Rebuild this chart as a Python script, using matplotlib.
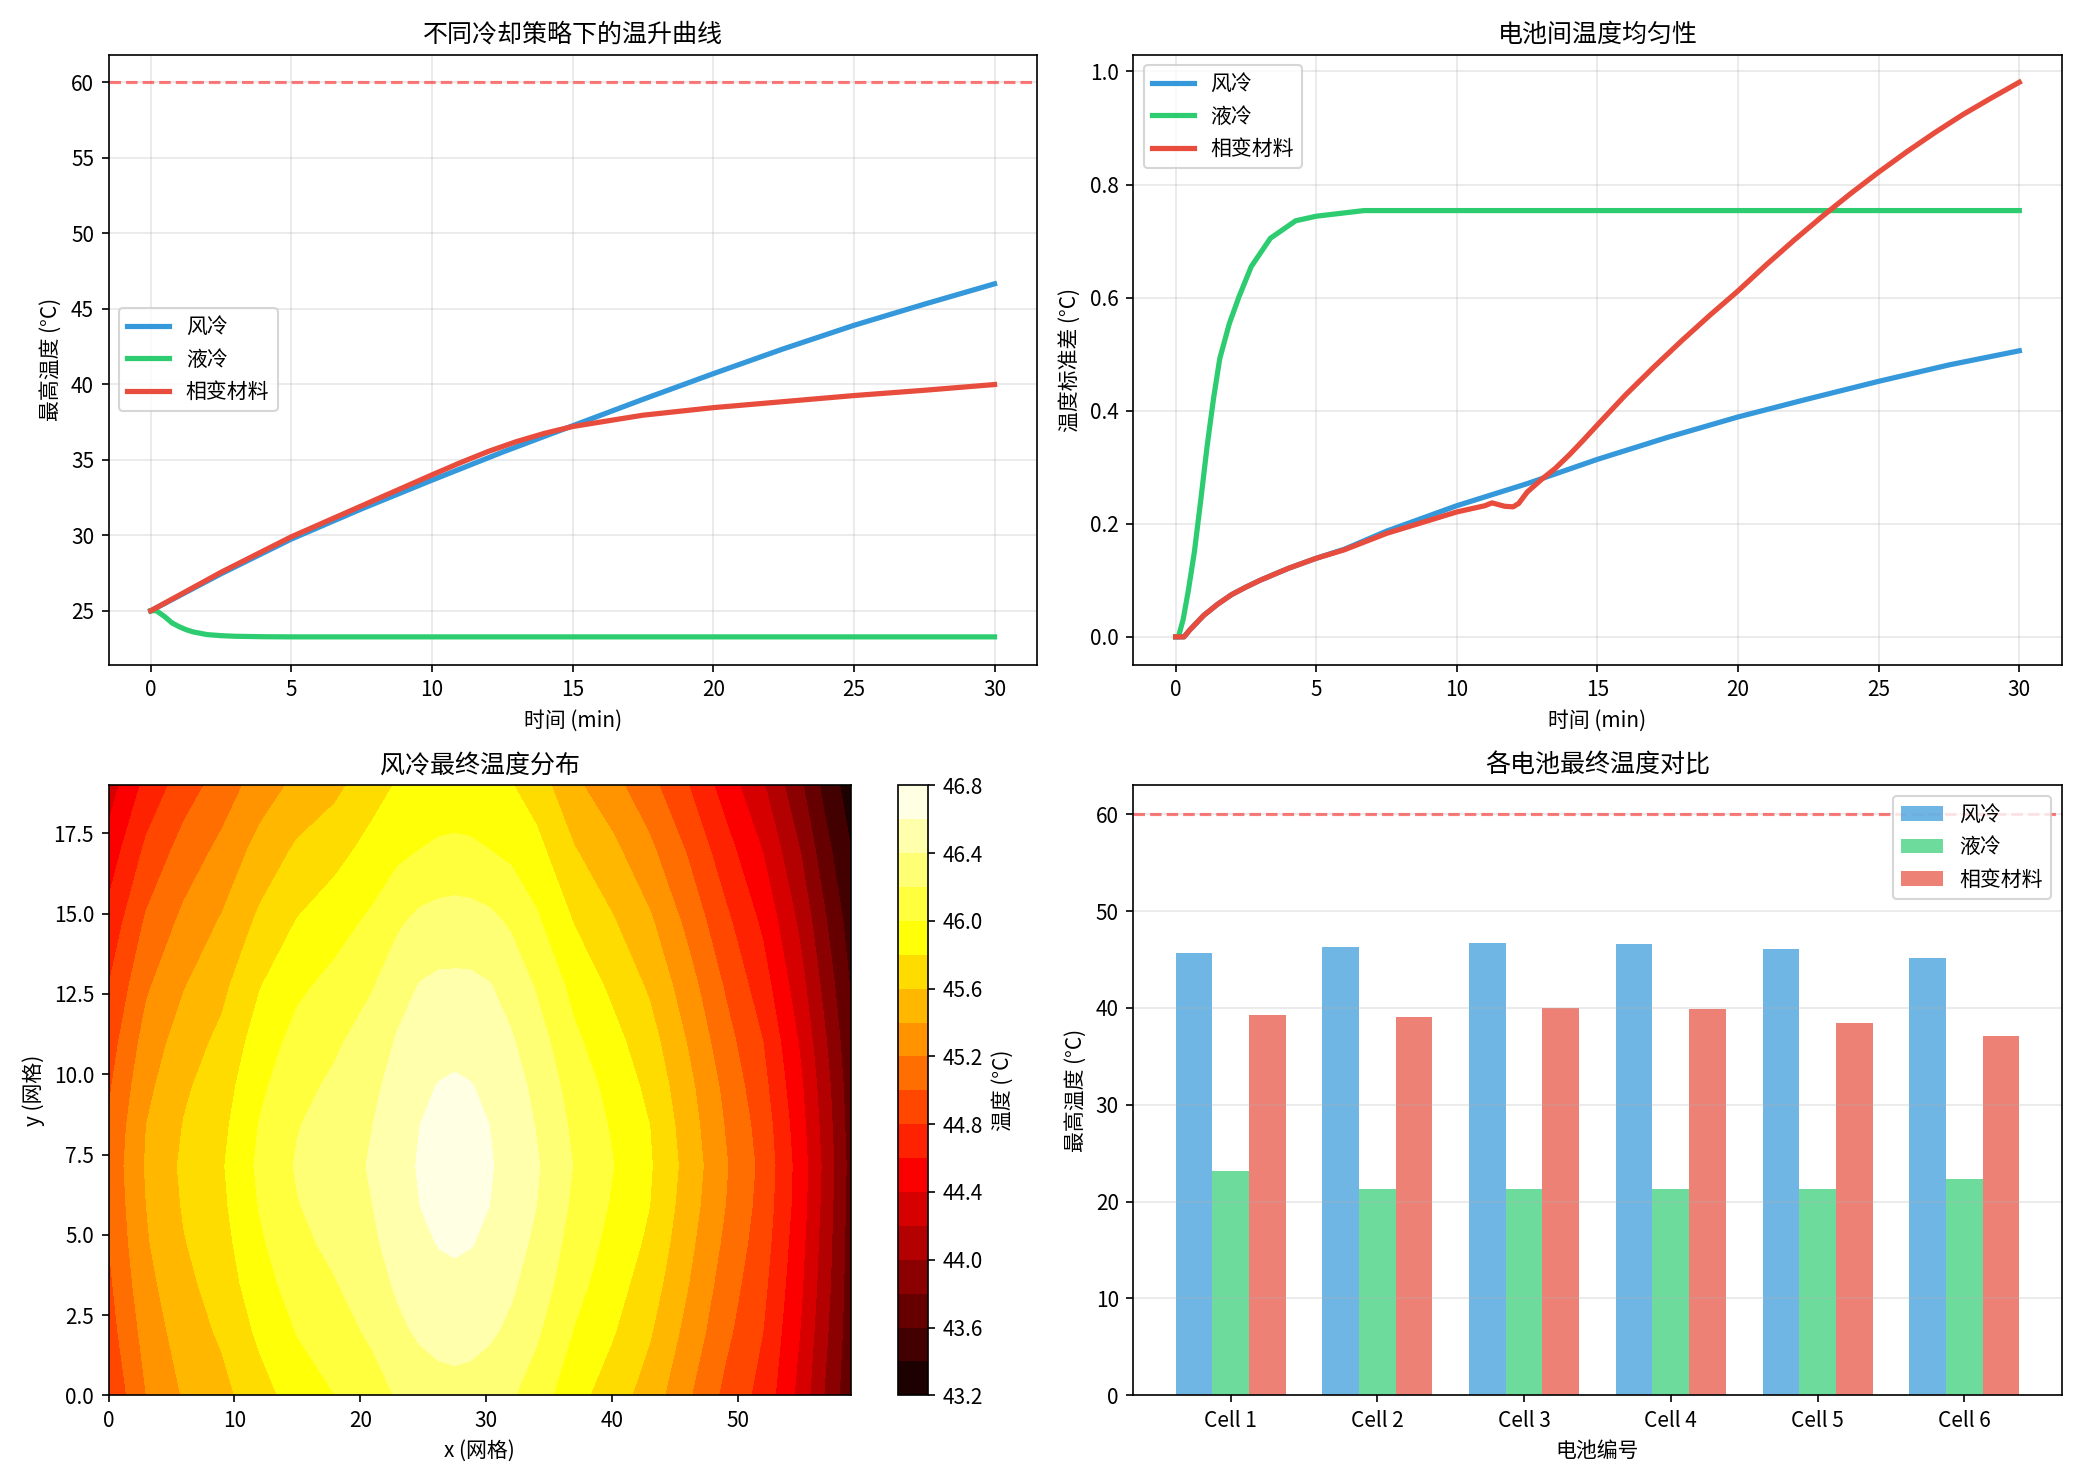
#!/usr/bin/env python3
"""
Cooling strategy comparison: temperature rise, uniformity, air-cooling field, per-cell max temps
"""

import numpy as np
import matplotlib
matplotlib.use('Agg')
import matplotlib.pyplot as plt

plt.rcParams['font.family'] = ['Noto Sans CJK SC', 'DejaVu Sans']
plt.rcParams['axes.unicode_minus'] = False

COLORS = {'风冷': '#3498db', '液冷': '#2ecc71', '相变材料': '#e74c3c'}

# --- max temperature vs time (deg C) ---
t_air = [0, 2.5, 5, 7.5, 10, 12.5, 15, 17.5, 20, 22.5, 25, 27.5, 30]
tmax_air = [25.0, 27.45, 29.75, 31.75, 33.65, 35.5, 37.25, 39.0, 40.7, 42.35, 43.9, 45.3, 46.65]

t_liquid = [0, 0.2, 0.5, 0.75, 1.0, 1.25, 1.5, 2.0, 2.5, 3.0, 4.0, 5.0, 10, 20, 30]
tmax_liquid = [25.0, 25.0, 24.6, 24.2, 23.95, 23.75, 23.6, 23.42, 23.35, 23.31, 23.28, 23.27,
               23.27, 23.27, 23.27]

t_pcm = [0, 2.5, 5, 7.5, 10, 11, 12, 13, 14, 15, 16, 17.5, 20, 22.5, 25, 27.5, 30]
tmax_pcm = [25.0, 27.55, 29.9, 31.95, 34.0, 34.8, 35.55, 36.2, 36.75, 37.2, 37.5, 37.95,
            38.45, 38.85, 39.25, 39.6, 39.98]

# --- temperature std between cells (deg C) ---
s_t_air = [0, 0.3, 0.5, 1, 1.5, 2, 2.5, 3, 4, 5, 6, 7.5, 10, 12.5, 15, 17.5, 20, 22.5, 25,
           27.5, 30]
std_air = [0.0, 0.0, 0.012, 0.038, 0.058, 0.075, 0.088, 0.1, 0.121, 0.139, 0.155, 0.187,
           0.232, 0.271, 0.314, 0.353, 0.389, 0.421, 0.452, 0.481, 0.506]

s_t_liquid = [0, 0.1, 0.27, 0.45, 0.67, 0.9, 1.12, 1.35, 1.57, 1.91, 2.25, 2.69, 3.37, 4.27,
              5, 6.7, 10, 20, 30]
std_liquid = [0.0, 0.0, 0.031, 0.081, 0.151, 0.244, 0.337, 0.422, 0.492, 0.554, 0.601,
              0.655, 0.705, 0.736, 0.744, 0.754, 0.754, 0.754, 0.754]

s_t_pcm = [0, 0.3, 0.5, 1, 1.5, 2, 2.5, 3, 4, 5, 6, 7.5, 10, 11, 11.25, 11.7, 12.0, 12.2,
           12.5, 13, 13.5, 14, 14.5, 15, 16, 17, 18, 19, 20, 21, 22, 23, 24, 25, 26, 27,
           28, 29, 30]
std_pcm = [0.0, 0.0, 0.012, 0.038, 0.058, 0.075, 0.088, 0.1, 0.121, 0.139, 0.154, 0.183,
           0.221, 0.232, 0.237, 0.231, 0.230, 0.236, 0.256, 0.278, 0.298, 0.322, 0.348,
           0.375, 0.428, 0.477, 0.524, 0.569, 0.612, 0.658, 0.702, 0.744, 0.784, 0.822,
           0.858, 0.892, 0.924, 0.953, 0.981]

# --- final temperature field, air cooling (grid coords) ---
grid_x = [0, 3, 6, 9, 12, 15, 18, 21, 23, 24.75, 26.25, 27.5, 28.75,
          30.25, 32, 34, 37, 40, 43, 46, 49, 52, 55, 57, 59]
grid_y = [0, 2, 3.5, 4.75, 5.9, 7.15, 8.4, 9.6, 11, 12.75, 14.75, 17, 19]
field_air = [
    [44.82, 45.20, 45.42, 45.54, 45.72, 45.89, 46.00, 46.11, 46.22, 46.29, 46.33, 46.34, 46.33,
     46.29, 46.22, 46.10, 45.87, 45.70, 45.51, 45.23, 44.95, 44.73, 44.33, 43.97, 43.65],
    [44.91, 45.28, 45.50, 45.63, 45.84, 46.01, 46.11, 46.24, 46.36, 46.43, 46.46, 46.47, 46.46,
     46.43, 46.36, 46.23, 45.99, 45.82, 45.62, 45.34, 45.05, 44.80, 44.39, 44.03, 43.68],
    [44.96, 45.34, 45.55, 45.69, 45.92, 46.09, 46.19, 46.32, 46.43, 46.50, 46.54, 46.55, 46.54,
     46.50, 46.43, 46.31, 46.07, 45.89, 45.70, 45.41, 45.11, 44.85, 44.43, 44.07, 43.69],
    [45.00, 45.38, 45.59, 45.73, 45.97, 46.15, 46.25, 46.37, 46.48, 46.56, 46.61, 46.63, 46.61,
     46.56, 46.48, 46.36, 46.12, 45.94, 45.76, 45.46, 45.16, 44.89, 44.46, 44.09, 43.70],
    [45.03, 45.40, 45.62, 45.76, 46.01, 46.19, 46.29, 46.40, 46.51, 46.60, 46.67, 46.69, 46.67,
     46.60, 46.51, 46.40, 46.16, 45.98, 45.80, 45.50, 45.20, 44.92, 44.49, 44.11, 43.71],
    [45.05, 45.42, 45.64, 45.78, 46.04, 46.22, 46.31, 46.42, 46.52, 46.62, 46.70, 46.72, 46.70,
     46.62, 46.52, 46.42, 46.19, 46.01, 45.82, 45.53, 45.22, 44.94, 44.50, 44.13, 43.72],
    [45.02, 45.40, 45.61, 45.75, 46.01, 46.19, 46.29, 46.40, 46.51, 46.60, 46.67, 46.69, 46.67,
     46.60, 46.51, 46.39, 46.16, 45.98, 45.80, 45.50, 45.19, 44.91, 44.47, 44.10, 43.70],
    [44.97, 45.35, 45.57, 45.71, 45.96, 46.14, 46.24, 46.36, 46.48, 46.56, 46.61, 46.63, 46.61,
     46.56, 46.47, 46.36, 46.11, 45.94, 45.75, 45.46, 45.15, 44.86, 44.43, 44.07, 43.68],
    [44.90, 45.28, 45.50, 45.65, 45.89, 46.07, 46.17, 46.30, 46.42, 46.50, 46.53, 46.54, 46.53,
     46.50, 46.42, 46.29, 46.04, 45.87, 45.68, 45.39, 45.08, 44.80, 44.37, 44.01, 43.64],
    [44.80, 45.17, 45.39, 45.55, 45.79, 45.96, 46.06, 46.19, 46.33, 46.41, 46.44, 46.44, 46.44,
     46.41, 46.33, 46.18, 45.94, 45.76, 45.57, 45.29, 44.98, 44.69, 44.27, 43.92, 43.58],
    [44.66, 45.03, 45.25, 45.42, 45.64, 45.81, 45.92, 46.04, 46.17, 46.25, 46.28, 46.29, 46.28,
     46.25, 46.17, 46.03, 45.79, 45.62, 45.43, 45.15, 44.85, 44.56, 44.15, 43.81, 43.50],
    [44.48, 44.84, 45.08, 45.25, 45.47, 45.63, 45.73, 45.87, 45.95, 46.00, 46.03, 46.04, 46.03,
     46.00, 45.95, 45.86, 45.61, 45.45, 45.24, 44.98, 44.68, 44.39, 43.99, 43.66, 43.40],
    [44.30, 44.66, 44.90, 45.09, 45.29, 45.45, 45.55, 45.72, 45.82, 45.86, 45.88, 45.88, 45.88,
     45.86, 45.81, 45.70, 45.44, 45.27, 45.06, 44.81, 44.51, 44.22, 43.83, 43.52, 43.30],
]

# --- final max temperature per cell ---
cells = ['Cell 1', 'Cell 2', 'Cell 3', 'Cell 4', 'Cell 5', 'Cell 6']
final_air = [45.7, 46.3, 46.7, 46.6, 46.1, 45.2]
final_liquid = [23.2, 21.3, 21.3, 21.3, 21.3, 22.3]
final_pcm = [39.3, 39.05, 40.0, 39.9, 38.4, 37.1]

T_LIMIT = 60


def plot_all():
    fig, axes = plt.subplots(2, 2, figsize=(2084 / 150, 1484 / 150))

    # temperature rise
    ax = axes[0, 0]
    ax.plot(t_air, tmax_air, color=COLORS['风冷'], linewidth=2.5, label='风冷')
    ax.plot(t_liquid, tmax_liquid, color=COLORS['液冷'], linewidth=2.5, label='液冷')
    ax.plot(t_pcm, tmax_pcm, color=COLORS['相变材料'], linewidth=2.5, label='相变材料')
    ax.axhline(y=T_LIMIT, color='r', linestyle='--', alpha=0.5)
    ax.set_xlabel('时间 (min)')
    ax.set_ylabel('最高温度 (°C)')
    ax.set_title('不同冷却策略下的温升曲线', fontsize=12)
    ax.legend(loc='center left')
    ax.grid(True, alpha=0.3)

    # uniformity
    ax = axes[0, 1]
    ax.plot(s_t_air, std_air, color=COLORS['风冷'], linewidth=2.5, label='风冷')
    ax.plot(s_t_liquid, std_liquid, color=COLORS['液冷'], linewidth=2.5, label='液冷')
    ax.plot(s_t_pcm, std_pcm, color=COLORS['相变材料'], linewidth=2.5, label='相变材料')
    ax.set_xlabel('时间 (min)')
    ax.set_ylabel('温度标准差 (°C)')
    ax.set_title('电池间温度均匀性', fontsize=12)
    ax.legend(loc='upper left')
    ax.grid(True, alpha=0.3)

    # field
    ax = axes[1, 0]
    levels = np.linspace(43.2, 46.8, 19)
    cs = ax.contourf(grid_x, grid_y, field_air, levels=levels, cmap='hot')
    cbar = fig.colorbar(cs, ax=ax, ticks=levels[::2])
    cbar.set_label('温度 (°C)')
    ax.set_xlabel('x (网格)')
    ax.set_ylabel('y (网格)')
    ax.set_title('风冷最终温度分布', fontsize=12)

    # per-cell bars
    ax = axes[1, 1]
    x = np.arange(len(cells))
    w = 0.25
    ax.bar(x - w, final_air, w, color=COLORS['风冷'], alpha=0.7, label='风冷')
    ax.bar(x, final_liquid, w, color=COLORS['液冷'], alpha=0.7, label='液冷')
    ax.bar(x + w, final_pcm, w, color=COLORS['相变材料'], alpha=0.7, label='相变材料')
    ax.axhline(y=T_LIMIT, color='r', linestyle='--', alpha=0.5)
    ax.set_xticks(x)
    ax.set_xticklabels(cells)
    ax.set_xlabel('电池编号')
    ax.set_ylabel('最高温度 (°C)')
    ax.set_title('各电池最终温度对比', fontsize=12)
    ax.legend(loc='upper right')
    ax.grid(True, alpha=0.3, axis='y')

    plt.tight_layout()
    plt.savefig('out.png', dpi=150)


if __name__ == "__main__":
    plot_all()
